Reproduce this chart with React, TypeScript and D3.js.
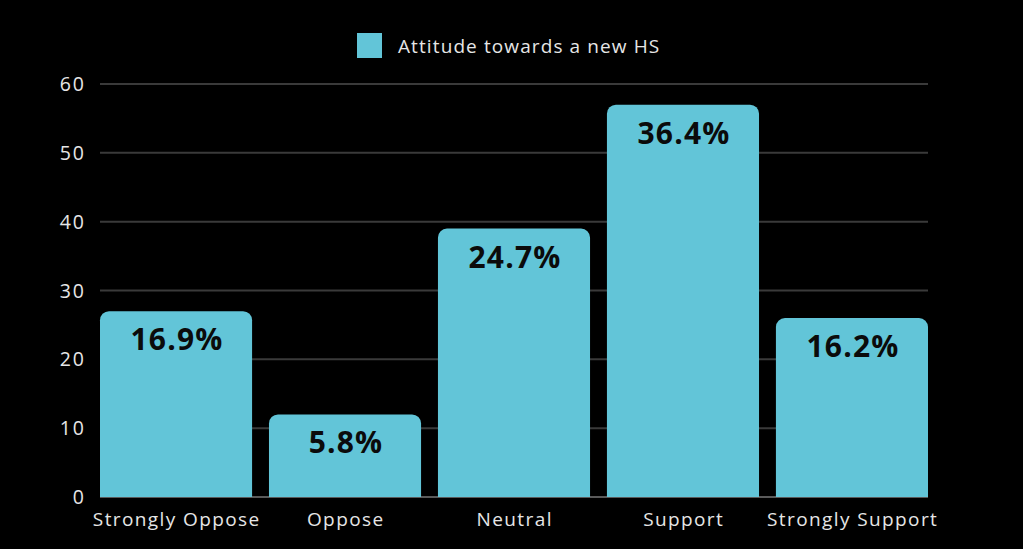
import React from "react";
import * as d3 from "d3";

const categories = ["Strongly Oppose", "Oppose", "Neutral", "Support", "Strongly Support"];
const counts = [27, 12, 39, 57, 26];
const percentLabels = ["16.9%", "5.8%", "24.7%", "36.4%", "16.2%"];
const yTicks = [0, 10, 20, 30, 40, 50, 60];
const seriesName = "Attitude towards a new HS";

const W = 1023;
const H = 549;
const margin = { left: 100, right: 95, top: 84, bottom: 52 };
const BAR = "#62c5d8";
const FONT = "'Open Sans', 'Noto Sans', sans-serif";

function roundedTopRect(x: number, y: number, w: number, h: number, r: number) {
  const rr = Math.min(r, h, w / 2);
  const p = d3.path();
  p.moveTo(x, y + h);
  p.lineTo(x, y + rr);
  p.arcTo(x, y, x + rr, y, rr);
  p.lineTo(x + w - rr, y);
  p.arcTo(x + w, y, x + w, y + rr, rr);
  p.lineTo(x + w, y + h);
  p.closePath();
  return p.toString();
}

export default function App() {
  const x = d3
    .scaleBand<string>()
    .domain(categories)
    .range([margin.left, W - margin.right])
    .paddingInner(0.1)
    .paddingOuter(0);
  const y = d3.scaleLinear().domain([0, 60]).range([H - margin.bottom, margin.top]);

  return (
    <svg
      width={W}
      height={H}
      style={{ position: "absolute", left: 0, top: 0, background: "#000", display: "block" }}
    >
      <rect x={0} y={0} width={W} height={H} fill="#000" />
      {/* legend */}
      <rect x={357} y={33} width={25} height={25} fill={BAR} />
      <text x={398} y={53} fill="#e6e6e6" fontFamily={FONT} fontSize={19} letterSpacing={1.1}>
        {seriesName}
      </text>
      {/* gridlines */}
      {yTicks.map((t) => (
        <g key={t}>
          <line
            x1={margin.left}
            x2={W - margin.right}
            y1={y(t)}
            y2={y(t)}
            stroke={t === 0 ? "#5a5a5a" : "#3a3a3a"}
            strokeWidth={2}
          />
          <text
            x={86}
            y={y(t) + 7}
            textAnchor="end"
            fill="#e6e6e6"
            fontFamily={FONT}
            fontSize={19.5}
            letterSpacing={2}
          >
            {t}
          </text>
        </g>
      ))}
      {/* bars */}
      {categories.map((c, i) => {
        const bx = x(c)!;
        const bw = x.bandwidth();
        const top = y(counts[i]);
        const h = y(0) - top;
        return (
          <g key={c}>
            <path d={roundedTopRect(bx, top, bw, h, 9)} fill={BAR} />
            <text
              x={bx + bw / 2 + 1}
              y={top + 39}
              textAnchor="middle"
              fill="#0b0b0b"
              fontFamily={FONT}
              fontWeight={700}
              fontSize={30}
              letterSpacing={1.2}
            >
              {percentLabels[i]}
            </text>
            <text
              x={bx + bw / 2 + 0.7}
              y={H - margin.bottom + 29}
              textAnchor="middle"
              fill="#e6e6e6"
              fontFamily={FONT}
              fontSize={19}
              letterSpacing={1.4}
            >
              {c}
            </text>
          </g>
        );
      })}
    </svg>
  );
}
